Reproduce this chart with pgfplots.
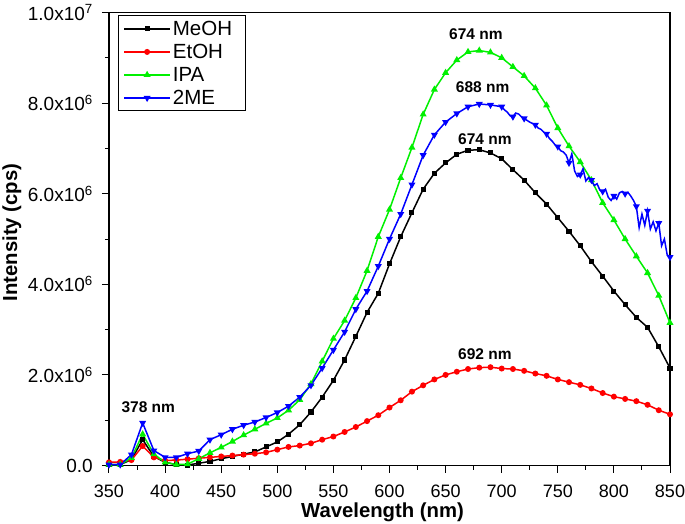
\documentclass[border=0pt]{standalone}
\usepackage{pgfplots}
\pgfplotsset{compat=1.18}
\usepackage{pgfplotstable}
\usepackage{fontspec}
\setmainfont{Liberation Sans}
\definecolor{cgreen}{RGB}{0,240,0}
\definecolor{cblue}{RGB}{0,0,255}
\definecolor{cred}{RGB}{255,0,0}
\pgfplotsset{
  longlegend/.style={legend image code/.code={%
    \draw[mark repeat=2,mark phase=2,##1] plot coordinates {(0pt,0pt) (23pt,0pt) (46pt,0pt)};}},
}

% wavelength (nm), intensity (1e6 cps)
\pgfplotstableread{
x MeOH EtOH IPA
350 0.02 0.07 0.02
360 0.02 0.08 0.02
370 0.13 0.12 0.17
380 0.57 0.43 0.69
390 0.20 0.18 0.25
400 0.07 0.11 0.07
410 0.02 0.12 0.02
420 0.01 0.14 0.03
430 0.05 0.16 0.15
440 0.09 0.18 0.28
450 0.15 0.20 0.40
460 0.20 0.22 0.53
470 0.25 0.24 0.67
480 0.30 0.26 0.80
490 0.41 0.29 0.93
500 0.52 0.35 1.05
510 0.69 0.41 1.22
520 0.90 0.44 1.45
530 1.18 0.49 1.80
540 1.51 0.57 2.30
550 1.88 0.64 2.80
560 2.33 0.74 3.20
570 2.85 0.85 3.70
580 3.38 0.98 4.30
590 3.80 1.11 5.05
600 4.45 1.28 5.65
610 5.05 1.44 6.35
620 5.58 1.63 7.02
630 6.10 1.77 7.75
640 6.45 1.90 8.30
650 6.68 2.00 8.67
660 6.87 2.07 8.95
670 6.96 2.13 9.13
680 6.97 2.16 9.16
690 6.90 2.17 9.12
700 6.77 2.14 9.00
710 6.53 2.13 8.80
720 6.30 2.09 8.60
730 6.02 2.03 8.33
740 5.77 1.98 7.95
750 5.47 1.90 7.45
760 5.17 1.84 7.05
770 4.85 1.78 6.70
780 4.50 1.70 6.30
790 4.18 1.60 5.80
800 3.85 1.52 5.42
810 3.55 1.47 5.00
820 3.27 1.42 4.62
830 3.05 1.34 4.25
840 2.62 1.22 3.75
850 2.15 1.13 3.15
}\main

\pgfplotstableread{
x y
350 0.02
360 0.02
370 0.24
380 0.94
390 0.33
400 0.18
410 0.18
420 0.26
430 0.32
440 0.57
450 0.68
460 0.80
470 0.89
480 0.96
490 1.06
500 1.17
510 1.31
520 1.51
530 1.77
540 2.15
550 2.55
560 2.95
570 3.45
580 3.85
590 4.40
600 5.00
610 5.55
620 6.20
630 6.85
640 7.30
650 7.58
660 7.77
670 7.92
680 7.98
690 7.96
700 7.92
}\blueA

\pgfplotstableread{
x y
700 7.92
702.5 7.85
705 7.80
707.5 7.72
710 7.70
712.5 7.78
715 7.76
717.5 7.70
720 7.66
722.5 7.62
725 7.58
727.5 7.55
730 7.52
732.5 7.45
735 7.42
737.5 7.36
740 7.32
742.5 7.22
745 7.16
747.5 7.08
750 7.04
752.5 6.95
755 6.92
757.5 6.85
760 6.68
762.5 6.88
765 6.50
767.5 6.38
770 6.42
772.5 6.55
775 6.28
777.5 6.36
780 6.30
782.5 6.18
785 6.22
787.5 6.08
790 6.05
792.5 6.10
795 5.92
797.5 5.85
800 5.95
802.5 5.88
805 6.02
807.5 6.05
810 6.00
812.5 6.03
815 5.95
817.5 5.85
820 5.72
822.5 5.25
825 5.55
827.5 5.30
830 5.62
832.5 5.22
835 5.38
837.5 5.18
840 5.35
842.5 4.85
845 5.00
847.5 4.65
850 4.60
}\blueB

\begin{document}
\begin{tikzpicture}
\useasboundingbox (-109pt,-57.5pt) rectangle (576pt,465.5pt);
\begin{axis}[
  at={(0,0)}, anchor=south west,
  scale only axis,
  width=561pt, height=453pt,
  xmin=350, xmax=850, ymin=0, ymax=10,
  xtick={350,400,...,850},
  minor x tick num=1,
  ytick={0,2,4,6,8,10},
  minor y tick num=1,
  yticklabels={0.0,{2.0x10\textsuperscript{6}},{4.0x10\textsuperscript{6}},{6.0x10\textsuperscript{6}},{8.0x10\textsuperscript{6}},{1.0x10\textsuperscript{7}}},
  /pgf/number format/assume math mode=true,
  tick align=outside,
  tick pos=left,
  major tick length=7pt,
  minor tick length=4pt,
  every tick/.style={line width=1pt, black},
  axis line style={line width=1.2pt},
  tick label style={inner sep=0pt},
  xticklabel style={font=\fontsize{18}{20}\selectfont, anchor=north, yshift=-12.5pt},
  yticklabel style={font=\fontsize{19}{21}\selectfont, anchor=east, xshift=-9pt},
  xlabel={Wavelength (nm)},
  ylabel={Intensity (cps)},
  label style={font=\bfseries\fontsize{20.3}{23}\selectfont, inner sep=0pt},
  xlabel style={at={(axis description cs:0.4875,0)}, anchor=north, yshift=-37pt},
  ylabel style={at={(axis description cs:-0.1560,0.5143)}, anchor=south},
  longlegend,
  legend style={at={(axis description cs:0.016,0.9934)}, anchor=north west,
    draw=black, line width=0.8pt, font=\fontsize{20.5}{23}\selectfont,
    inner xsep=5pt, inner ysep=3pt, row sep=3.3pt},
  legend cell align=left,
]
\addplot[black, line width=1.5pt, mark=square*, mark size=1.8pt] table[x=x, y=MeOH] {\main};
\addlegendentry{\makebox[66pt][l]{MeOH}}
\addplot[cred, line width=1.5pt, mark=*, mark size=2.2pt] table[x=x, y=EtOH] {\main};
\addlegendentry{\makebox[66pt][l]{EtOH}}
\addplot[cgreen, line width=1.5pt, mark=triangle*, mark size=2.6pt] table[x=x, y=IPA] {\main};
\addlegendentry{\makebox[66pt][l]{IPA}}
\addplot[cblue, line width=1.5pt, mark=triangle*, mark size=2.6pt, mark options={rotate=180}] table[x=x, y=y] {\blueA};
\addlegendentry{\makebox[66pt][l]{2ME}}
\addplot[cblue, line width=1.5pt, mark=triangle*, mark size=2.6pt, mark options={rotate=180}, mark repeat=4, mark phase=5, forget plot] table[x=x, y=y] {\blueB};

\begin{scope}[every node/.style={font=\bfseries\fontsize{15.5}{18}\selectfont, anchor=base, inner sep=0pt}]
\node at (axis cs:385,1.18) {378 nm};
\node at (axis cs:677,9.41) {674 nm};
\node at (axis cs:683,8.23) {688 nm};
\node at (axis cs:685,7.08) {674 nm};
\node at (axis cs:685,2.33) {692 nm};
\end{scope}
\end{axis}
\end{tikzpicture}
\end{document}
